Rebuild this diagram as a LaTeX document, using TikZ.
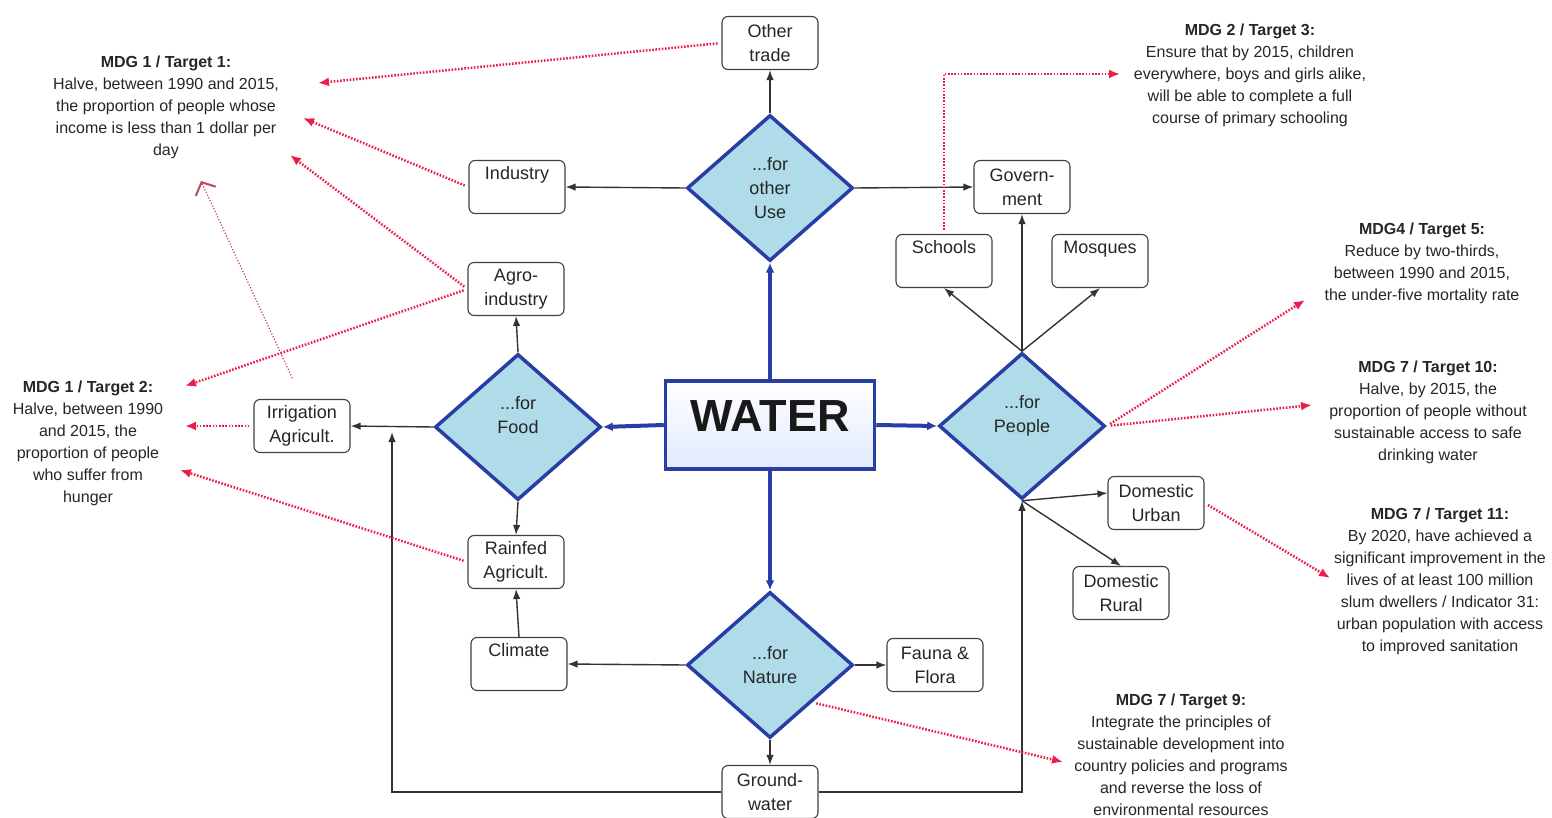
\documentclass[tikz,border=0pt]{standalone}
\usepackage{fontspec}
\setmainfont{Liberation Sans}
\usetikzlibrary{shapes.geometric,arrows.meta}
\definecolor{wblue}{RGB}{40,62,165}
\definecolor{wfill}{RGB}{176,220,234}
\definecolor{mdgred}{RGB}{234,30,72}
\newcommand{\boxfont}{\fontsize{18}{24}\selectfont}
\newcommand{\mdgfont}{\fontsize{16}{22}\selectfont}

\begin{document}
\begin{tikzpicture}[x=1pt,y=-1pt,>={Latex[length=10pt,width=7.5pt]},
  diam/.style={diamond, draw=wblue, line width=3.5pt, fill=wfill, minimum width=166pt, minimum height=146pt, inner sep=0pt, align=center, font=\boxfont, text=black!85},
  entry/.style={draw=black!75, line width=1.1pt, rounded corners=6pt, fill=white, minimum width=96pt, minimum height=53pt, align=center, font=\boxfont, text=black!85, inner sep=2pt},
  waterbox/.style={draw=wblue, line width=3.5pt, top color=white, middle color=white, bottom color=cyan!30!blue!12, minimum width=209pt, minimum height=88pt, text depth=18pt, font=\fontsize{45}{48}\selectfont\bfseries, text=black!90},
  mdg/.style={align=center, font=\mdgfont, text=black!85},
  flow/.style={->, line width=1.4pt, black!80},
  supply/.style={-{Latex[length=10pt,width=9pt]}, line width=4pt, wblue},
  goal/.style={-{Latex[length=11pt,width=9pt]}, line width=2.5pt, mdgred, dash pattern=on 1.6pt off 1.6pt, shorten <=4pt},
  hint/.style={-{Straight Barb[length=10pt,width=22pt,line width=2pt]}, line width=1.2pt, mdgred!60!gray, dash pattern=on 1.2pt off 1.8pt}]
  \useasboundingbox (0,0) rectangle (1552,818);

  % Nodes
  \node[entry] (trade) at (770,43) {Other\\trade};
  \node[diam] (other) at (770,188) {...for\\other\\Use};
  \node[entry] (ind) at (517,187) {Industry\\\vphantom{y}};
  \node[entry] (gov) at (1022,187) {Govern-\\ment};
  \node[entry] (sch) at (944,261) {Schools\\\vphantom{y}};
  \node[entry] (mosq) at (1100,261) {Mosques\\\vphantom{y}};
  \node[entry] (agro) at (516,289) {Agro-\\industry};
  \node[diam] (food) at (518,427) {...for\\Food\\\vphantom{F}};
  \node[waterbox] (water) at (770,425) {WATER};
  \node[diam] (people) at (1022,426) {...for\\People\\\vphantom{P}};
  \node[entry] (irr) at (302,426) {Irrigation\\Agricult.};
  \node[entry] (rain) at (516,562) {Rainfed\\Agricult.};
  \node[entry] (domu) at (1156,503) {Domestic\\Urban};
  \node[entry] (domr) at (1121,593) {Domestic\\Rural};
  \node[entry] (clim) at (519,664) {Climate\\\vphantom{y}};
  \node[diam] (nature) at (770,665) {...for\\Nature};
  \node[entry] (fauna) at (935,665) {Fauna \&\\Flora};
  \node[entry] (ground) at (770,792) {Ground-\\water};

  % Goals
  \node[mdg] (g1) at (166,107) {\textbf{MDG 1 / Target 1:}\\Halve, between 1990 and 2015,\\the proportion of people whose\\income is less than 1 dollar per\\day};
  \node[mdg] (g2) at (88,443) {\textbf{MDG 1 / Target 2:}\\Halve, between 1990\\and 2015, the\\proportion of people\\who suffer from\\hunger};
  \node[mdg] (g3) at (1250,75) {\textbf{MDG 2 / Target 3:}\\Ensure that by 2015, children\\everywhere, boys and girls alike,\\will be able to complete a full\\course of primary schooling};
  \node[mdg] (g5) at (1422,263) {\textbf{MDG4 / Target 5:}\\Reduce by two-thirds,\\between 1990 and 2015,\\the under-five mortality rate};
  \node[mdg] (g10) at (1428,412) {\textbf{MDG 7 / Target 10:}\\Halve, by 2015, the\\proportion of people without\\sustainable access to safe\\drinking water};
  \node[mdg] (g11) at (1440,581) {\textbf{MDG 7 / Target 11:}\\By 2020, have achieved a\\significant improvement in the\\lives of at least 100 million\\slum dwellers / Indicator 31:\\urban population with access\\to improved sanitation};
  \node[mdg] (g9) at (1181,755) {\textbf{MDG 7 / Target 9:}\\Integrate the principles of\\sustainable development into\\country policies and programs\\and reverse the loss of\\environmental resources};

  % Arrow ends
  \coordinate (t1a) at (318,83);
  \coordinate (t1b) at (303,118);
  \coordinate (t1c) at (290,155);
  \coordinate (t1d) at (201,181);
  \coordinate (t2a) at (185,386);
  \coordinate (t2b) at (185,426);
  \coordinate (t2c) at (180,470);
  \coordinate (t3) at (1120,74);
  \coordinate (t5) at (1305,300);
  \coordinate (t10) at (1312,405);
  \coordinate (t11) at (1330,578);
  \coordinate (t9) at (1063,762);
  \coordinate (gwin) at (392,432);

  % Water arrows
  \draw[supply] (water.north) -- (other.south);
  \draw[supply] (water.west) -- (food.east);
  \draw[supply] (water.east) -- (people.west);
  \draw[supply] (water.south) -- (nature.north);

  % Uses
  \draw[flow] (other.north) -- (trade.south);
  \draw[flow] (other.west) -- (ind.east);
  \draw[flow] (other.east) -- (gov.west);
  \draw[flow] (food.north) -- (agro.south);
  \draw[flow] (food.west) -- (irr.east);
  \draw[flow] (food.south) -- (rain.north);
  \draw[flow] (clim.north) -- (rain.south);
  \draw[flow] (people.north) -- (gov.south);
  \draw[flow] (people.north) -- (sch.south);
  \draw[flow] (people.north) -- (mosq.south);
  \draw[flow] (people.south) -- ([yshift=10pt]domu.west);
  \draw[flow] (people.south) -- (domr.north);
  \draw[flow] (nature.west) -- (clim.east);
  \draw[flow] (nature.east) -- (fauna.west);
  \draw[flow] (nature.south) -- (ground.north);
  \draw[flow] (ground.west) -| (gwin);
  \draw[flow] (ground.east) -| (people.south);

  % MDG links
  \draw[goal] (trade.west) -- (t1a);
  \draw[goal] (ind.west) -- (t1b);
  \draw[goal] (agro.west) -- (t1c);
  \draw[goal] (agro.west) -- (t2a);
  \draw[goal] (irr.west) -- (t2b);
  \draw[goal] (rain.west) -- (t2c);
  \draw[goal, line width=2pt] (sch.north) |- (t3);
  \draw[goal] (people.east) -- (t5);
  \draw[goal] (people.east) -- (t10);
  \draw[goal] (domu.east) -- (t11);
  \draw[goal] (nature.south east) -- (t9);
  \draw[hint, shorten <=23pt] (irr.north) -- (t1d);
\end{tikzpicture}
\end{document}
